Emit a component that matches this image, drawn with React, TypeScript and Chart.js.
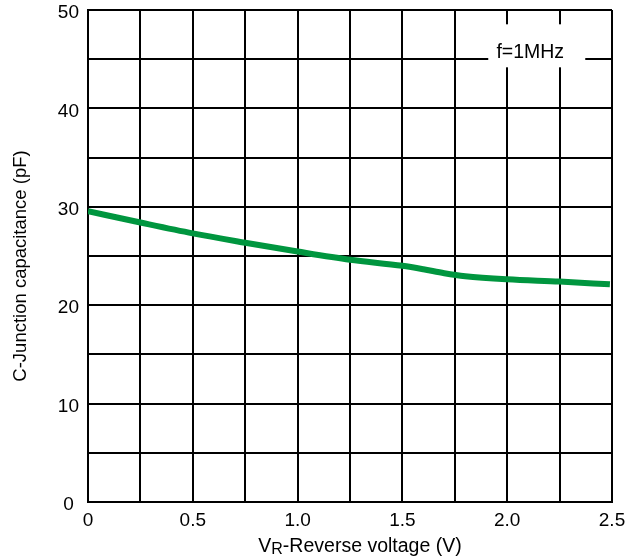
import React, { useEffect, useRef } from 'react';
import { Chart, registerables } from 'chart.js';

Chart.register(...registerables);

// ---- data ----
const voltage = [0, 0.25, 0.5, 0.75, 1.0, 1.25, 1.5, 1.6, 1.7, 1.8, 2.0, 2.25, 2.49];
const capacitance = [29.55, 28.4, 27.3, 26.35, 25.45, 24.62, 24.0, 23.65, 23.25, 22.95, 22.63, 22.4, 22.12];
const xTickValues = [0, 0.5, 1.0, 1.5, 2.0, 2.5];
const xTickLabels = ['0', '0.5', '1.0', '1.5', '2.0', '2.5'];
const yTickValues = [0, 10, 20, 30, 40, 50];
const yTickLabels = ['0', '10', '20', '30', '40', '50'];
const xTitleMain = 'V';
const xTitleSub = 'R';
const xTitleRest = '-Reverse voltage (V)';
const yTitle = 'C-Junction capacitance (pF)';
const noteText = 'f=1MHz';

const FONT = '"Liberation Sans", Arial, Helvetica, sans-serif';
const LINE_COLOR = '#00963F';

function labelFor(values: number[], labels: string[], v: number): string {
  for (let i = 0; i < values.length; i++) {
    if (Math.abs(values[i] - v) < 1e-6) return labels[i];
  }
  return '';
}

const annotPlugin = {
  id: 'annot',
  afterDraw(chart: any) {
    const { ctx, chartArea } = chart;
    const xs = chart.scales.x;
    const ys = chart.scales.y;
    ctx.save();

    // note box with white background over the grid
    const cx = xs.getPixelForValue(2.11);
    const cy = ys.getPixelForValue(45.7);
    ctx.fillStyle = '#ffffff';
    ctx.fillRect(cx - 42, cy - 28, 97, 43);
    ctx.fillStyle = '#000000';
    ctx.font = `19.5px ${FONT}`;
    ctx.textAlign = 'center';
    ctx.textBaseline = 'middle';
    ctx.fillText(noteText, cx, cy);

    // y title
    ctx.save();
    ctx.translate(21, (chartArea.top + chartArea.bottom) / 2 + 10);
    ctx.rotate(-Math.PI / 2);
    ctx.font = `18.5px ${FONT}`;
    ctx.textAlign = 'center';
    ctx.textBaseline = 'middle';
    ctx.fillText(yTitle, 0, 0);
    ctx.restore();

    // x title with subscript
    const mainFont = `19.5px ${FONT}`;
    const subFont = `16px ${FONT}`;
    ctx.font = mainFont;
    const w1 = ctx.measureText(xTitleMain).width;
    const w3 = ctx.measureText(xTitleRest).width;
    ctx.font = subFont;
    const w2 = ctx.measureText(xTitleSub).width;
    const total = w1 + w2 + w3;
    const centerX = (chartArea.left + chartArea.right) / 2 + 10;
    const baseY = chartArea.bottom + 50;
    let x = centerX - total / 2;
    ctx.textAlign = 'left';
    ctx.textBaseline = 'alphabetic';
    ctx.font = mainFont;
    ctx.fillText(xTitleMain, x, baseY);
    x += w1;
    ctx.font = subFont;
    ctx.fillText(xTitleSub, x, baseY + 1.5);
    x += w2;
    ctx.font = mainFont;
    ctx.fillText(xTitleRest, x, baseY);

    ctx.restore();
  },
};

export default function App() {
  const canvasRef = useRef<HTMLCanvasElement | null>(null);

  useEffect(() => {
    const canvas = canvasRef.current;
    if (!canvas) return;
    const chart = new Chart(canvas, {
      type: 'line',
      data: {
        datasets: [
          {
            data: voltage.map((v, i) => ({ x: v, y: capacitance[i] })),
            borderColor: LINE_COLOR,
            borderWidth: 6,
            pointRadius: 0,
            fill: false,
            cubicInterpolationMode: 'monotone',
            borderCapStyle: 'butt',
            borderJoinStyle: 'round',
          },
        ],
      },
      options: {
        animation: false,
        responsive: false,
        devicePixelRatio: 1,
        layout: { padding: { top: 10, right: 27, left: 0, bottom: 0 } },
        plugins: {
          legend: { display: false },
          tooltip: { enabled: false },
          title: { display: false },
        },
        scales: {
          x: {
            type: 'linear',
            min: 0,
            max: 2.5,
            border: { display: true, color: '#000', width: 2 },
            grid: { color: '#000', lineWidth: 2, drawTicks: false },
            ticks: {
              stepSize: 0.25,
              autoSkip: false,
              maxRotation: 0,
              padding: 7,
              color: '#000',
              font: { family: FONT, size: 19 },
              callback: (v: any) => labelFor(xTickValues, xTickLabels, Number(v)),
            },
            afterFit(scale: any) {
              scale.height = 58;
              scale.paddingLeft = 0;
              scale.paddingRight = 0;
            },
          },
          y: {
            type: 'linear',
            min: 0,
            max: 50,
            border: { display: true, color: '#000', width: 2 },
            grid: { color: '#000', lineWidth: 2, drawTicks: false },
            ticks: {
              stepSize: 5,
              autoSkip: false,
              padding: 9,
              crossAlign: 'center',
              labelOffset: 3,
              color: '#000',
              font: { family: FONT, size: 19 },
              callback: (v: any) => labelFor(yTickValues, yTickLabels, Number(v)),
            },
            afterFit(scale: any) {
              scale.width = 88;
              scale.paddingTop = 0;
              scale.paddingBottom = 0;
            },
          },
        },
      },
      plugins: [annotPlugin],
    } as any);
    return () => chart.destroy();
  }, []);

  return (
    <div style={{ position: 'absolute', left: 0, top: 0, width: 639, height: 560, background: '#fff' }}>
      <canvas ref={canvasRef} width={639} height={560} style={{ display: 'block' }} />
    </div>
  );
}
